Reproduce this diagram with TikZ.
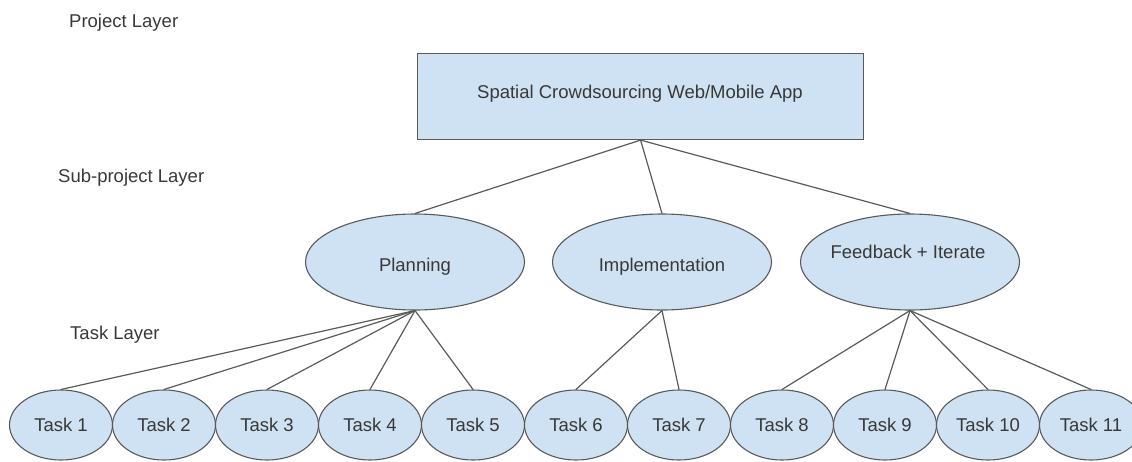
\documentclass[tikz,border=0pt]{standalone}
\usepackage{fontspec}
\setmainfont{Liberation Sans}
\usetikzlibrary{shapes.geometric}
\definecolor{boxfill}{HTML}{CFE2F3}
\definecolor{boxline}{HTML}{5A5A5A}
\definecolor{txt}{HTML}{383838}
\begin{document}
\begin{tikzpicture}[x=1pt,y=-1pt,
  shapebox/.style={draw=boxline,fill=boxfill,line width=1.1pt,inner sep=0pt},
  subell/.style={shapebox,ellipse,minimum width=219pt,minimum height=96pt},
  taskell/.style={shapebox,ellipse,minimum width=103pt,minimum height=70pt},
  lbl/.style={text=txt,font=\fontsize{18.5}{22}\selectfont,inner sep=0pt,anchor=base},
  layerlbl/.style={lbl,anchor=base west},
  edge/.style={draw=boxline,line width=1.2pt}]
\useasboundingbox (0,0) rectangle (1132,461);
% layer labels
\node[layerlbl] (lp) at (69,27) {Project Layer};
\node[layerlbl] (ls) at (58,182) {Sub-project Layer};
\node[layerlbl] (lt) at (70,339) {Task Layer};
% project box
\node[shapebox,rectangle,minimum width=446pt,minimum height=86pt,anchor=north west] (proj) at (417,53) {};
\node[lbl] (projt) at (640,98) {Spatial Crowdsourcing Web/Mobile App};
% sub-projects
\node[subell] (plan) at (415,262) {};
\node[subell] (impl) at (662,262) {};
\node[subell] (feed) at (910,262) {};
\node[lbl] (plant) at (415,271) {Planning};
\node[lbl] (implt) at (662,271) {Implementation};
\node[lbl] (feedt) at (908,258) {Feedback + Iterate};
% tasks
\foreach \i in {1,...,11}{
  \node[taskell] (t\i) at ({61+103*(\i-1)},425) {};
  \node[lbl] (t\i t) at ({61+103*(\i-1)},431) {Task \i};
}
% edges
\foreach \s in {plan,impl,feed}{
  \draw[edge] (proj.south) -- (\s.north);
}
\foreach \i in {1,...,5}{
  \draw[edge] (plan.south) -- (t\i.north);
}
\foreach \i in {6,7}{
  \draw[edge] (impl.south) -- (t\i.north);
}
\foreach \i in {8,...,11}{
  \draw[edge] (feed.south) -- (t\i.north);
}
\end{tikzpicture}
\end{document}
